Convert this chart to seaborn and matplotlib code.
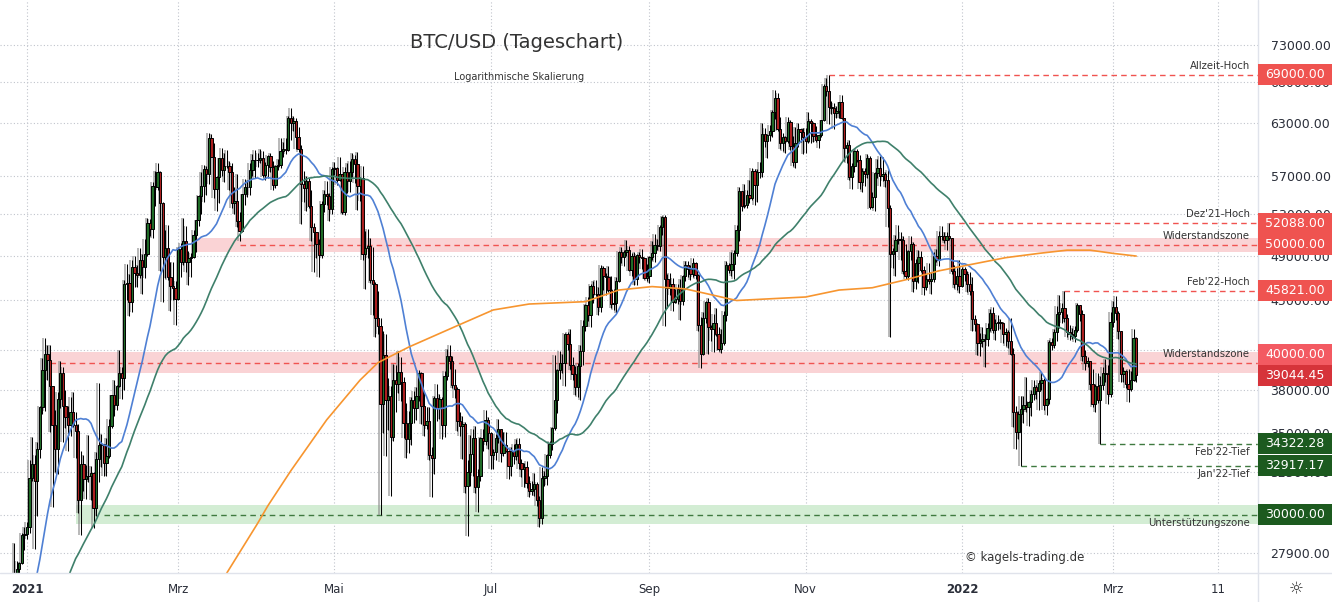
"""
plot.py
-------
BTC/USD daily candles (log scale) with 20/50/200-day moving averages,
resistance / support zones and price tags, drawn TradingView style.
"""

import pandas as pd
import matplotlib
matplotlib.use("Agg")  # headless rendering
import matplotlib.pyplot as plt
import matplotlib.dates as mdates
from matplotlib.lines import Line2D
from matplotlib.patches import Rectangle
from matplotlib.ticker import FixedLocator, FuncFormatter, NullLocator, NullFormatter
from matplotlib.transforms import IdentityTransform, blended_transform_factory
import seaborn as sns

# ---------------------------------------------------------------------------
# data, prices in thousand USD
# ---------------------------------------------------------------------------
FIRST_DAY = "2020-12-26"
FIRST_OPEN = 24.71  # open of the first candle (= close of 2020-12-25)

# daily closes 2020-11-06 .. 2020-12-25, only used to warm up the 20/50 SMA
warmup_closes = [
    15.58, 14.83, 15.48, 15.33, 15.30, 15.70, 16.28, 16.32, 16.07, 15.96,
    16.72, 17.65, 17.78, 17.82, 18.65, 18.70, 18.42, 18.37, 19.16, 18.72,
    17.15, 17.14, 17.72, 18.18, 19.70,
    18.79, 19.22, 19.44, 18.70, 19.15, 19.36, 19.17, 18.32, 18.55, 18.25,
    18.04, 18.80, 19.17, 19.27, 19.43, 21.37, 22.85, 23.13, 23.87, 23.48,
    22.75, 23.83, 23.25, 23.72, 24.71,
]

closes = [
    # Dec 26-31 2020
    26.47, 26.28, 27.04, 27.36, 28.88, 28.92,
    # Jan 2021
    29.33, 32.18, 33.00, 31.99, 33.95, 36.77, 39.43, 40.67, 40.24, 38.24,
    35.55, 33.95, 37.32, 39.19, 36.83, 36.07, 35.55, 36.45, 35.58, 35.15,
    30.83, 33.00, 32.10, 32.29, 32.25, 32.47, 30.36, 33.36, 34.25, 34.26, 33.10,
    # Feb
    33.52, 35.48, 37.62, 36.93, 38.29, 39.26, 38.87, 46.45, 46.48, 44.84,
    47.97, 47.41, 47.19, 48.58, 47.91, 49.13, 52.12, 51.55, 55.90, 55.84,
    57.41, 54.09, 48.89, 49.68, 47.06, 46.28, 46.10, 45.14,
    # Mar
    49.59, 48.44, 50.35, 48.37, 48.75, 48.88, 50.97, 52.38, 54.88, 55.85,
    57.77, 57.22, 61.19, 59.00, 55.63, 56.90, 58.91, 57.65, 58.03, 58.10,
    57.35, 54.08, 54.34, 52.30, 51.29, 55.03, 55.82, 55.78, 57.63, 58.73, 58.74,
    # Apr
    58.72, 58.97, 57.06, 58.20, 59.12, 57.99, 56.00, 58.09, 58.13, 59.77,
    60.00, 59.86, 63.58, 62.96, 63.16, 61.33, 60.00, 56.15, 55.66, 56.47,
    53.80, 51.70, 51.19, 50.11, 49.07, 54.03, 55.03, 54.82, 53.56, 57.70,
    # May
    57.80, 56.58, 57.17, 53.20, 57.44, 56.40, 57.36, 58.80, 58.23, 55.86,
    56.75, 49.15, 49.72, 49.88, 46.76, 46.43, 43.54, 42.90, 36.96, 40.60,
    37.30, 37.54, 34.77, 38.70, 38.40, 39.30, 38.55, 35.66, 34.62, 35.68, 37.30,
    # Jun
    36.70, 37.57, 39.19, 36.85, 35.52, 35.80, 33.59, 33.40, 37.39, 36.69,
    37.34, 35.55, 39.02, 40.52, 40.14, 38.35, 38.09, 35.82, 35.48, 35.60,
    31.68, 32.51, 33.68, 34.66, 31.59, 32.28, 34.70, 34.49, 35.91, 35.04,
    # Jul
    33.57, 33.80, 34.67, 35.29, 33.69, 34.22, 33.86, 32.88, 33.81, 33.52,
    34.26, 33.09, 32.73, 32.82, 31.88, 31.38, 31.52, 31.78, 30.84, 29.79,
    32.14, 32.29, 33.58, 34.29, 35.38, 37.27, 39.46, 40.00, 40.01, 42.20, 41.46,
    # Aug
    39.85, 39.15, 38.20, 39.72, 40.87, 42.84, 44.61, 43.82, 46.29, 45.59,
    45.55, 44.43, 47.83, 47.10, 47.02, 45.92, 44.70, 44.80, 46.72, 49.34,
    48.87, 49.29, 49.53, 47.70, 48.95, 46.85, 49.07, 48.90, 48.80, 46.99, 47.13,
    # Sep
    48.83, 49.25, 49.99, 49.92, 51.76, 52.66, 46.86, 46.05, 46.40, 44.85,
    45.17, 46.03, 44.94, 47.11, 48.14, 47.76, 47.30, 48.31, 47.26, 43.00,
    40.69, 43.56, 44.86, 42.81, 42.67, 43.16, 42.23, 41.03, 41.52, 43.79,
    # Oct
    48.14, 47.66, 48.23, 49.23, 51.47, 55.32, 53.79, 53.95, 54.95, 54.66,
    57.47, 56.00, 57.37, 57.35, 61.67, 60.88, 61.53, 62.01, 64.28, 66.00,
    62.21, 60.69, 61.29, 60.85, 63.08, 60.33, 58.45, 60.59, 62.25, 61.88, 61.30,
    # Nov
    60.91, 63.22, 62.93, 61.40, 61.00, 61.53, 63.30, 67.53, 66.97, 64.88,
    64.80, 64.15, 64.40, 65.50, 63.60, 60.06, 60.35, 56.90, 58.10, 59.70,
    58.70, 56.30, 57.55, 57.15, 58.95, 53.70, 54.75, 57.27, 57.80, 56.95,
    # Dec
    57.20, 56.50, 53.60, 49.15, 49.40, 50.44, 50.59, 50.47, 47.55, 47.14,
    49.39, 50.05, 46.70, 48.34, 48.86, 47.63, 46.13, 46.83, 46.68, 46.90,
    48.94, 48.63, 50.82, 50.80, 50.43, 50.80, 50.70, 47.54, 46.46, 47.12, 46.22,
    # Jan 2022
    47.72, 47.29, 46.45, 45.83, 43.43, 43.08, 41.55, 41.67, 41.86, 41.82,
    42.74, 43.92, 42.59, 43.10, 43.18, 43.10, 42.25, 42.37, 41.67, 40.68,
    36.45, 35.07, 36.28, 36.65, 36.95, 36.81, 37.16, 37.71, 38.17, 37.92, 38.48,
    # Feb
    38.74, 36.95, 37.34, 41.57, 41.38, 42.40, 43.84, 44.04, 44.38, 43.57,
    42.41, 42.21, 42.06, 42.54, 44.58, 43.90, 40.52, 40.00, 40.10, 38.40,
    37.02, 38.28, 37.27, 38.33, 39.22, 39.12, 37.70, 43.19,
    # Mar 1-10
    44.42, 43.92, 42.45, 39.15, 39.40, 38.42, 38.06, 38.74, 41.94, 39.04445,
]

highs = [
    26.87, 28.42, 27.50, 27.41, 28.99, 29.30,
    29.60, 33.30, 34.78, 33.60, 34.44, 36.88, 40.36, 41.95, 41.36, 41.35,
    38.26, 36.60, 37.85, 40.10, 39.70, 37.95, 36.85, 37.45, 37.85, 36.40,
    35.60, 33.85, 33.60, 32.95, 34.88, 32.90, 32.55, 33.78, 38.50, 34.93, 34.30,
    34.70, 35.98, 37.66, 38.70, 38.31, 40.95, 39.70, 46.75, 48.20, 47.35,
    48.63, 48.99, 48.15, 49.70, 49.10, 50.60, 52.62, 52.55, 56.37, 57.50,
    58.35, 57.53, 54.18, 51.40, 51.95, 48.40, 48.39, 46.68,
    49.79, 50.20, 52.64, 51.77, 49.45, 49.20, 51.45, 52.40, 54.90, 57.40,
    58.15, 58.00, 61.80, 61.70, 60.60, 56.94, 58.98, 60.10, 59.45, 59.88,
    58.58, 58.40, 55.83, 57.20, 53.24, 55.08, 56.64, 56.56, 58.40, 59.37, 59.80,
    59.46, 60.00, 59.76, 58.49, 59.25, 59.49, 58.65, 58.15, 58.88, 61.22,
    60.70, 61.20, 63.78, 64.85, 63.80, 63.52, 62.50, 60.40, 57.50, 57.00,
    56.80, 55.45, 52.13, 51.20, 50.55, 54.35, 55.46, 56.43, 55.20, 57.96,
    58.46, 57.94, 59.00, 57.23, 57.97, 58.36, 58.65, 59.50, 59.30, 59.60,
    56.90, 58.00, 51.37, 51.56, 50.70, 49.80, 46.60, 45.80, 43.55, 42.45,
    42.20, 38.85, 38.30, 39.90, 39.80, 40.90, 40.40, 38.90, 37.05, 36.50, 37.50,
    37.90, 38.20, 39.48, 39.30, 37.90, 36.80, 36.80, 34.07, 37.53, 38.40,
    37.69, 37.45, 39.38, 41.06, 41.33, 40.50, 39.56, 38.20, 36.46, 36.15,
    35.75, 33.30, 34.88, 35.30, 35.50, 32.70, 34.75, 35.30, 36.60, 36.10,
    35.06, 33.94, 34.95, 35.95, 35.30, 35.10, 35.06, 33.92, 34.10, 34.26,
    34.60, 34.68, 33.34, 33.10, 33.19, 32.25, 31.95, 32.44, 31.90, 31.06,
    32.86, 32.60, 33.65, 34.50, 35.40, 40.55, 39.54, 40.90, 40.64, 42.32, 42.40,
    42.60, 40.44, 39.78, 39.97, 41.40, 43.39, 44.70, 45.30, 46.45, 46.70,
    46.75, 46.20, 48.14, 48.00, 47.40, 48.05, 47.15, 46.00, 47.05, 49.38,
    49.76, 49.50, 50.50, 49.86, 49.25, 49.35, 49.16, 49.30, 49.64, 48.90, 48.25,
    49.00, 50.40, 51.05, 50.55, 51.90, 52.78, 52.92, 47.35, 47.40, 47.00,
    45.97, 46.45, 46.88, 47.25, 48.45, 48.49, 48.16, 48.80, 48.37, 47.35,
    43.60, 44.00, 44.98, 45.20, 42.96, 43.90, 44.35, 42.78, 42.64, 44.13,
    48.50, 48.35, 49.30, 49.50, 51.89, 55.75, 55.34, 56.10, 55.49, 56.55,
    57.84, 57.68, 57.75, 58.54, 62.93, 62.40, 61.72, 62.70, 64.49, 67.00,
    66.64, 63.73, 61.75, 61.50, 63.71, 63.30, 61.50, 62.50, 62.96, 62.28, 62.40,
    62.40, 64.27, 63.50, 63.09, 62.60, 61.60, 63.30, 67.79, 68.53, 69.00,
    65.60, 65.46, 65.00, 65.58, 66.40, 63.60, 60.80, 60.95, 58.35, 59.85,
    60.00, 59.25, 57.85, 57.80, 59.40, 59.20, 55.30, 57.40, 58.85, 59.20,
    59.10, 57.40, 57.60, 53.90, 49.70, 50.90, 51.95, 51.20, 50.80, 50.10,
    49.50, 50.80, 50.30, 48.70, 49.50, 49.45, 48.00, 47.30, 48.30, 47.50,
    49.33, 49.57, 51.37, 51.80, 51.20, 51.25, 52.09, 50.70, 48.10, 47.88, 48.55,
    47.95, 47.99, 47.57, 47.50, 47.07, 43.80, 43.15, 42.30, 42.80, 42.25,
    43.10, 44.30, 44.45, 43.45, 43.80, 43.48, 43.20, 42.70, 42.58, 43.50,
    41.10, 36.84, 36.50, 37.55, 37.55, 38.90, 37.23, 38.00, 38.72, 38.36, 38.74,
    39.27, 38.85, 37.39, 41.77, 41.95, 42.66, 44.50, 45.50, 44.80, 45.82,
    43.90, 43.00, 42.75, 42.88, 44.77, 44.58, 44.20, 40.95, 40.45, 40.15,
    39.50, 38.45, 39.25, 39.00, 39.70, 40.30, 39.85, 44.00,
    44.95, 45.40, 44.10, 42.50, 39.70, 39.45, 39.50, 39.35, 42.60, 42.00,
]

lows = [
    24.50, 25.92, 26.10, 25.88, 27.32, 28.05,
    28.62, 28.95, 31.95, 28.13, 29.90, 33.40, 36.30, 36.50, 38.72, 35.11,
    30.42, 32.53, 32.38, 36.70, 34.41, 35.36, 33.85, 34.80, 35.40, 33.40,
    30.07, 28.85, 31.40, 30.90, 31.90, 30.84, 29.24, 29.90, 31.90, 32.85, 32.30,
    32.30, 33.40, 35.36, 36.16, 36.57, 38.22, 37.35, 38.00, 45.00, 43.73,
    44.00, 46.13, 46.20, 47.00, 45.57, 47.00, 48.93, 50.87, 50.70, 53.86,
    55.48, 47.62, 44.90, 47.00, 46.80, 44.10, 45.00, 43.00,
    45.00, 47.05, 48.10, 47.50, 46.30, 47.07, 48.80, 49.30, 51.85, 53.00,
    54.27, 55.00, 56.08, 59.00, 54.60, 53.27, 54.12, 57.00, 56.27, 57.82,
    55.45, 53.65, 53.00, 51.70, 50.40, 51.28, 53.96, 54.70, 54.90, 57.00, 56.77,
    57.93, 58.40, 56.90, 56.50, 56.80, 57.35, 55.47, 55.70, 57.66, 57.87,
    59.00, 59.37, 59.76, 61.00, 62.02, 60.00, 59.58, 52.00, 54.20, 53.33,
    53.60, 50.40, 47.50, 48.75, 47.05, 48.80, 53.22, 53.88, 52.33, 53.01,
    57.05, 56.04, 56.43, 53.05, 52.90, 55.20, 55.25, 56.90, 56.20, 53.40,
    54.37, 48.60, 46.00, 48.80, 46.55, 43.80, 42.00, 42.25, 30.00, 35.00,
    33.50, 35.20, 31.10, 34.50, 36.40, 37.80, 37.20, 34.70, 33.40, 33.70, 34.20,
    35.70, 35.90, 37.20, 35.60, 34.80, 35.30, 33.30, 31.00, 32.40, 35.80,
    35.95, 34.60, 34.76, 38.73, 39.50, 38.12, 37.40, 35.13, 34.80, 33.35,
    31.25, 28.80, 31.70, 32.25, 31.28, 30.15, 32.00, 33.86, 34.23, 34.00,
    32.70, 32.70, 33.30, 34.37, 33.13, 33.53, 33.77, 32.10, 32.26, 33.00,
    33.30, 32.70, 32.20, 31.60, 31.55, 31.02, 31.16, 31.10, 30.48, 29.28,
    29.48, 31.70, 31.75, 33.40, 33.90, 35.20, 36.38, 38.77, 39.20, 38.30, 41.00,
    39.42, 38.69, 37.64, 37.50, 37.30, 39.85, 42.45, 43.26, 42.80, 44.80,
    45.35, 43.77, 44.00, 45.90, 45.50, 45.70, 44.40, 44.20, 43.95, 46.63,
    48.29, 48.00, 49.00, 47.60, 47.10, 46.30, 46.37, 48.35, 47.80, 46.85, 46.70,
    46.50, 48.60, 48.40, 49.50, 49.45, 50.97, 42.85, 44.40, 45.50, 44.15,
    44.75, 44.74, 43.37, 44.65, 46.70, 47.05, 46.75, 47.04, 46.85, 42.50,
    39.60, 40.56, 43.10, 40.70, 41.70, 40.80, 42.10, 40.90, 40.75, 41.40,
    43.28, 47.40, 47.10, 46.90, 49.00, 50.38, 53.35, 53.60, 53.65, 54.10,
    54.40, 53.88, 54.25, 56.80, 56.85, 60.15, 58.96, 60.87, 61.33, 63.48,
    62.00, 60.00, 59.67, 59.51, 60.65, 59.82, 58.00, 57.82, 60.17, 60.72, 59.40,
    59.50, 60.62, 60.60, 60.70, 60.72, 60.10, 61.32, 63.22, 66.30, 62.80,
    64.10, 62.30, 63.60, 63.60, 63.40, 58.60, 58.37, 56.50, 55.60, 57.40,
    58.50, 55.60, 55.30, 55.90, 56.70, 53.50, 53.65, 53.30, 56.70, 55.90,
    56.45, 55.80, 51.70, 42.00, 47.90, 47.10, 50.04, 48.60, 47.30, 46.85,
    46.75, 48.60, 45.70, 46.00, 46.55, 47.50, 45.50, 45.90, 46.40, 45.55,
    46.63, 48.40, 48.05, 50.45, 50.20, 49.50, 50.45, 47.30, 46.10, 45.90, 45.68,
    46.20, 46.65, 45.70, 45.50, 42.50, 42.50, 40.60, 40.50, 41.20, 39.65,
    41.27, 42.45, 42.30, 41.72, 42.58, 42.60, 41.55, 41.25, 41.14, 40.55,
    35.44, 34.00, 34.60, 32.92, 35.70, 36.40, 35.50, 36.15, 37.30, 37.35, 36.60,
    38.00, 36.58, 36.25, 37.00, 40.95, 41.10, 41.65, 42.70, 43.10, 43.20,
    42.00, 41.75, 41.85, 41.57, 42.43, 43.31, 40.10, 39.45, 39.64, 38.00,
    36.80, 36.40, 37.04, 34.32, 38.00, 38.55, 37.00, 37.45,
    42.80, 43.33, 41.85, 38.55, 38.60, 38.10, 37.15, 37.90, 38.65, 38.55,
]

# 200-day SMA (smooth curve, sparse points are enough)
sma200_dates = [
    "2021-03-20", "2021-04-01", "2021-04-05", "2021-04-14", "2021-04-28",
    "2021-05-11", "2021-05-18", "2021-05-30", "2021-06-19", "2021-07-02",
    "2021-07-16", "2021-08-07", "2021-08-20", "2021-09-02", "2021-09-15",
    "2021-09-23", "2021-10-05", "2021-11-01", "2021-11-14", "2021-11-27",
    "2021-12-10", "2021-12-23", "2022-01-05", "2022-01-18", "2022-01-31",
    "2022-02-11", "2022-02-20", "2022-03-01", "2022-03-10",
]
sma200_values = [
    26.86, 29.5, 30.5, 32.6, 35.9, 38.7, 40.0, 41.2, 43.0, 44.2,
    44.7, 44.9, 45.9, 46.2, 46.0, 45.6, 45.0, 45.3, 45.9, 46.1,
    46.8, 47.6, 48.2, 48.8, 49.2, 49.5, 49.5, 49.2, 48.95,
]

# marked highs / lows (dashed lines starting at the candle that made them)
level_values = [69000.0, 52088.0, 45821.0, 34322.28, 32917.17]
level_names = ["Allzeit-Hoch", "Dez'21-Hoch", "Feb'22-Hoch", "Feb'22-Tief", "Jan'22-Tief"]
level_starts = ["2021-11-10", "2021-12-27", "2022-02-10", "2022-02-24", "2022-01-24"]

# resistance / support zones
zone_values = [50000.0, 40000.0, 30000.0]
zone_lows = [49350.0, 39200.0, 29450.0]
zone_highs = [50650.0, 40800.0, 30570.0]
zone_names = ["Widerstandszone", "Widerstandszone", "Unterstützungszone"]
zone_band_starts = ["2021-03-08", "2021-01-10", "2021-01-20"]
zone_line_starts = ["2021-03-25", "2021-01-10", "2021-01-31"]

# axis ticks
price_ticks = [27900, 30000, 32500, 35000, 38000, 41000, 45000, 49000,
               53000, 57000, 63000, 68000, 73000]
date_ticks = ["2021-01-01", "2021-03-01", "2021-05-01", "2021-07-01", "2021-09-01",
              "2021-11-01", "2022-01-01", "2022-03-01", "2022-04-11"]
date_labels = ["2021", "Mrz", "Mai", "Jul", "Sep", "Nov", "2022", "Mrz", "11"]

# price tags on the right scale
tag_values = [69000.0, 52088.0, 50000.0, 45821.0, 40000.0, 39044.45,
              34322.28, 32917.17, 30000.0]

# ---------------------------------------------------------------------------
UP = "#1f6b27"
DOWN = "#ab1f1f"
RED_LINE = "#f05350"
GREEN_LINE = "#3f7a40"
TAG_RED = "#ef5350"
TAG_GREEN = "#1c5a1f"
TEXT = "#2a2e39"
tag_colors = [TAG_RED, TAG_RED, TAG_RED, TAG_RED, "#f35a62", "#d6333a",
              TAG_GREEN, TAG_GREEN, TAG_GREEN]
tag_shift_px = [0, 0, 0, 0, 8, 0, 0, 0, 0]  # TradingView pushes overlapping tags apart

W, H = 1332, 602
PLOT_RIGHT, PLOT_BOTTOM = 1258, 573  # pixel edges of the price pane


def build_frame():
    dates = pd.date_range(FIRST_DAY, periods=len(closes), freq="D")
    df = pd.DataFrame({
        "date": dates,
        "open": [FIRST_OPEN] + closes[:-1],  # 24/7 market: open = previous close
        "high": highs,
        "low": lows,
        "close": closes,
    })
    df[["open", "high", "low", "close"]] *= 1000.0
    df["x"] = mdates.date2num(df["date"])

    series = pd.Series(warmup_closes + closes) * 1000.0
    n = len(warmup_closes)
    df["sma20"] = series.rolling(20).mean().iloc[n:].values
    df["sma50"] = series.rolling(50).mean().iloc[n:].values
    return df


def draw_candles(ax, df):
    x = df["x"].values
    # grey shadow bars to the left of each candle, as in the source chart
    ax.vlines(x - 0.6, df["low"], df["high"], color="#8a8a8a", lw=1.4, alpha=0.6, zorder=2.5)
    ax.vlines(x, df["low"], df["high"], color="black", lw=0.75, zorder=2.9)
    up = df["close"] >= df["open"]
    for mask, col in ((up, UP), (~up, DOWN)):
        d = df[mask]
        ax.bar(d["x"], (d["close"] - d["open"]).abs(), bottom=d[["open", "close"]].min(axis=1),
               width=0.9, color=col, edgecolor="black", linewidth=0.7, zorder=3)


def main():
    sns.set_theme(style="white")
    plt.rcParams["font.family"] = ["DejaVu Sans"]

    df = build_frame()

    fig = plt.figure(figsize=(W / 100, H / 100), dpi=100, facecolor="white")
    ax = fig.add_axes([0, (H - PLOT_BOTTOM) / H, PLOT_RIGHT / W, PLOT_BOTTOM / H])
    ax.set_yscale("log")

    d0 = mdates.date2num(pd.Timestamp("2021-01-01"))
    px_per_day = 935 / 365.0
    x_left = d0 - 27 / px_per_day
    x_right = d0 + (PLOT_RIGHT - 27) / px_per_day

    # zones behind everything
    for lo, hi, start in zip(zone_lows, zone_highs, zone_band_starts):
        col = "#d3edd4" if lo < 35000 else "#fad3d5"
        xs = mdates.date2num(pd.Timestamp(start))
        ax.fill_between([xs, x_right], lo, hi, color=col, lw=0, zorder=1)
    for v, start in zip(zone_values, zone_line_starts):
        col = GREEN_LINE if v < 35000 else RED_LINE
        ax.hlines(v, mdates.date2num(pd.Timestamp(start)), x_right, colors=col,
                  linestyles=(0, (4, 3)), lw=1.0, zorder=2)
    for v, start in zip(level_values, level_starts):
        col = GREEN_LINE if v < 35000 else RED_LINE
        ax.hlines(v, mdates.date2num(pd.Timestamp(start)), x_right, colors=col,
                  linestyles=(0, (4, 3)), lw=1.0, zorder=2)

    draw_candles(ax, df)

    # moving averages
    sns.lineplot(x=df["x"].values, y=df["sma20"].values, ax=ax, color="#4f80d4", lw=1.2, zorder=4)
    sns.lineplot(x=df["x"].values, y=df["sma50"].values, ax=ax, color="#3f806b", lw=1.2, zorder=4)
    sma200_x = mdates.date2num(pd.to_datetime(sma200_dates))
    sns.lineplot(x=sma200_x, y=[v * 1000 for v in sma200_values], ax=ax,
                 color="#f7952f", lw=1.2, zorder=4)

    # scales
    y_top = 73000 * 2.718281828 ** (45 / 528.1)
    y_bot = 73000 * 2.718281828 ** (-(PLOT_BOTTOM - 45) / 528.1)
    ax.set_ylim(y_bot, y_top)
    ax.set_xlim(x_left, x_right)

    ax.yaxis.tick_right()
    ax.yaxis.set_major_locator(FixedLocator(price_ticks))
    ax.yaxis.set_major_formatter(FuncFormatter(lambda v, _: f"{v:.2f}"))
    ax.yaxis.set_minor_locator(NullLocator())
    ax.yaxis.set_minor_formatter(NullFormatter())
    ax.tick_params(axis="y", length=0, pad=9, labelsize=9, labelcolor=TEXT)

    ax.set_xticks(mdates.date2num(pd.to_datetime(date_ticks)))
    ax.set_xticklabels(date_labels)
    ax.tick_params(axis="x", length=0, pad=7, labelsize=8.5, labelcolor=TEXT)
    for lab in ax.get_xticklabels():
        if lab.get_text().startswith("20"):
            lab.set_fontweight("bold")
    ax.set_xlabel("")
    ax.set_ylabel("")

    ax.grid(True, which="major", color="#c0c4cc", linestyle=(0, (1, 2)), linewidth=0.8, zorder=0)
    ax.set_axisbelow(True)
    for s in ax.spines.values():
        s.set_visible(False)

    # labels at the right end of the lines
    trans = blended_transform_factory(ax.transAxes, ax.transData)
    xr = 1250 / PLOT_RIGHT
    for v, name in zip(level_values + zone_values, level_names + zone_names):
        below = name.endswith("Tief") or name.startswith("Unter")
        ax.annotate(name, xy=(xr, v), xycoords=trans,
                    xytext=(0, -2.5 if below else 3), textcoords="offset points",
                    ha="right", va="top" if below else "bottom",
                    fontsize=7.3, color="#333333", zorder=6)

    # titles and watermark
    ax.text(517 / PLOT_RIGHT, 1 - 43 / PLOT_BOTTOM, "BTC/USD (Tageschart)", transform=ax.transAxes,
            ha="center", va="center", fontsize=14, color="#333333")
    ax.text(519 / PLOT_RIGHT, 1 - 77 / PLOT_BOTTOM, "Logarithmische Skalierung", transform=ax.transAxes,
            ha="center", va="center", fontsize=7, color="#333333")
    ax.text(1025 / PLOT_RIGHT, 1 - 557 / PLOT_BOTTOM, "© kagels-trading.de", transform=ax.transAxes,
            ha="center", va="center", fontsize=8.5, color="#333333")

    # pane borders
    ident = IdentityTransform()
    fig.add_artist(Line2D([PLOT_RIGHT, PLOT_RIGHT], [0, H], transform=ident, color="#e0e3eb", lw=1))
    fig.add_artist(Line2D([0, W], [H - PLOT_BOTTOM, H - PLOT_BOTTOM], transform=ident,
                          color="#e0e3eb", lw=1))

    # price tags on the scale (they cover the tick labels underneath, as in the source)
    for v, col, dy in zip(tag_values, tag_colors, tag_shift_px):
        yd = ax.transData.transform((x_left, v))[1] + dy
        fig.add_artist(Rectangle((PLOT_RIGHT, yd - 10.5), W - PLOT_RIGHT, 21, transform=ident,
                                 facecolor=col, edgecolor="none", zorder=5))
        fig.text(1295, yd, f"{v:.2f}", transform=ident, ha="center", va="center",
                 color="white", fontsize=9, zorder=6)

    fig.text(1296, H - 589, "☼", transform=ident, ha="center", va="center",
             fontsize=12, color="#333333")

    fig.savefig("out.png", dpi=100, facecolor="white")
    plt.close(fig)


if __name__ == "__main__":
    main()
